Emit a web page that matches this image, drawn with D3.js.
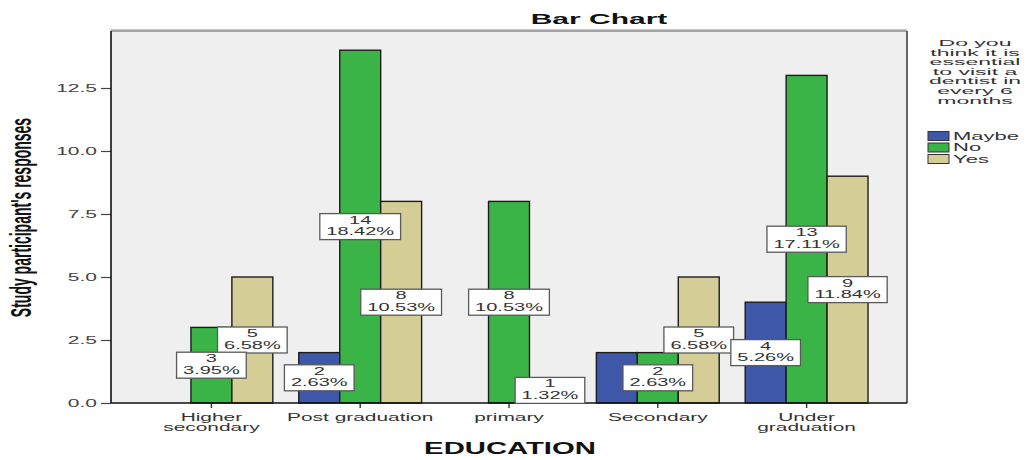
<!DOCTYPE html>
<html>
<head>
<meta charset="utf-8">
<script src="https://cdn.jsdelivr.net/npm/d3@7"></script>
<style>
  html, body { margin: 0; padding: 0; background: #ffffff; }
  svg { display: block; font-family: "Liberation Sans", Arial, sans-serif; }
</style>
</head>
<body>
<svg id="chart" width="1029" height="460"></svg>
<script>
// Education level categories (line breaks mark wrapped tick labels)
const categories = ["Higher\nsecondary", "Post graduation", "primary", "Secondary", "Under\ngraduation"];
// Response groups
const series = ["Maybe", "No", "Yes"];
// Counts of participants for each response, per education level
const maybeCounts = [0, 2, 0, 2, 4];
const noCounts    = [3, 14, 8, 2, 13];
const yesCounts   = [5, 8, 1, 5, 9];
// Total number of participants (base for the percentages)
const totalN = 76;
// Value axis ticks
const yTicks = [0, 2.5, 5, 7.5, 10, 12.5];
// Legend heading, as wrapped lines
const legendTitle = ["Do you", "think it is", "essential", "to visit a", "dentist in", "every 6", "months"];

const countsBySeries = { Maybe: maybeCounts, No: noCounts, Yes: yesCounts };
const colors = { Maybe: "#3f57a8", No: "#3bb447", Yes: "#d4cd96" };

const svg = d3.select("#chart");
const plot = { left: 111, top: 31, right: 907, bottom: 403 };

const x0 = d3.scaleBand()
  .domain(categories)
  .range([plot.left, plot.right])
  .paddingInner(0.1745)
  .paddingOuter(0.262);
const x1 = d3.scaleBand().domain(series).range([0, x0.bandwidth()]);
const y = d3.scaleLinear().domain([0, 12.5]).range([plot.bottom, 88]);

// Plot background
svg.append("rect")
  .attr("x", plot.left).attr("y", plot.top)
  .attr("width", plot.right - plot.left).attr("height", plot.bottom - plot.top)
  .attr("fill", "#efefef");

// Frame: top and right edges
svg.append("line").attr("x1", plot.left).attr("x2", plot.right).attr("y1", plot.top - 1.5).attr("y2", plot.top - 1.5)
  .attr("stroke", "#c8c8c8").attr("stroke-width", 1);
svg.append("line").attr("x1", plot.left).attr("x2", plot.right).attr("y1", plot.top).attr("y2", plot.top)
  .attr("stroke", "#8a8a8a").attr("stroke-width", 1.3);
svg.append("line").attr("x1", plot.right).attr("x2", plot.right).attr("y1", plot.top).attr("y2", plot.bottom)
  .attr("stroke", "#333").attr("stroke-width", 1.5);

// Flatten data into bar records
const bars = [];
categories.forEach((cat, i) => {
  series.forEach(s => {
    const v = countsBySeries[s][i];
    if (v > 0) bars.push({ cat, s, v });
  });
});

// Bars
svg.append("g").selectAll("rect")
  .data(bars)
  .join("rect")
  .attr("x", d => x0(d.cat) + x1(d.s))
  .attr("y", d => y(d.v))
  .attr("width", x1.bandwidth())
  .attr("height", d => y(0) - y(d.v))
  .attr("fill", d => colors[d.s])
  .attr("stroke", "#1c1c1c")
  .attr("stroke-width", 1.4);

// Y axis
const yAxis = svg.append("g")
  .attr("transform", `translate(${plot.left},0)`)
  .call(d3.axisLeft(y).tickValues(yTicks).tickFormat(d3.format(".1f")).tickSize(10).tickSizeOuter(0));
yAxis.select(".domain").remove();
yAxis.selectAll(".tick line").attr("stroke", "#444").attr("stroke-width", 1.2);
yAxis.selectAll(".tick text")
  .attr("x", 0).attr("dy", "0.35em")
  .attr("transform", "translate(-14,0) scale(2.1,1)")
  .attr("font-size", 10).attr("fill", "#444").attr("font-family", "\"Liberation Sans\", Arial, sans-serif");
svg.append("line").attr("x1", plot.left).attr("x2", plot.left).attr("y1", plot.top).attr("y2", plot.bottom)
  .attr("stroke", "#111").attr("stroke-width", 1.6);

// X axis
const xAxis = svg.append("g")
  .attr("transform", `translate(0,${plot.bottom})`)
  .call(d3.axisBottom(x0).tickSize(5).tickSizeOuter(0).tickFormat(""));
xAxis.select(".domain").remove();
xAxis.selectAll(".tick line").attr("stroke", "#333").attr("stroke-width", 1.4);
xAxis.selectAll(".tick").each(function (d) {
  const lines = d.split("\n");
  const t = d3.select(this).append("text")
    .attr("transform", "translate(0,18) scale(1.9,1)")
    .attr("text-anchor", "middle")
    .attr("font-size", 11)
    .attr("fill", "#333")
    .attr("font-family", "\"Liberation Sans\", Arial, sans-serif");
  lines.forEach((ln, k) => {
    t.append("tspan").attr("x", 0).attr("dy", k === 0 ? 0 : 10.5).text(ln);
  });
});
svg.append("line").attr("x1", plot.left).attr("x2", plot.right).attr("y1", plot.bottom).attr("y2", plot.bottom)
  .attr("stroke", "#111").attr("stroke-width", 1.6);

// Value labels: count and share of total, centred at half bar height.
// Labels are placed from the last series backwards; a label that would
// largely cover one already placed is left out.
const labelSx = 2.0;
const labelLayer = svg.append("g");
const placed = [];
const labelOrder = bars.slice().sort((a, b) =>
  categories.indexOf(a.cat) - categories.indexOf(b.cat) || series.indexOf(b.s) - series.indexOf(a.s));
labelOrder.forEach(d => {
  const cx = x0(d.cat) + x1(d.s) + x1.bandwidth() / 2;
  const cy = y(d.v / 2);
  const g = labelLayer.append("g").attr("transform", `translate(${cx},${cy})`);
  const rect = g.append("rect").attr("fill", "#ffffff").attr("stroke", "#5a5a5a").attr("stroke-width", 1.3);
  const texts = [String(d.v), (d.v / totalN * 100).toFixed(2) + "%"];
  let maxW = 0;
  texts.forEach((tx, k) => {
    const t = g.append("text")
      .attr("transform", `translate(0,${k === 0 ? -3 : 8.5}) scale(${labelSx},1)`)
      .attr("text-anchor", "middle")
      .attr("font-size", 10)
      .attr("fill", "#333")
      .text(tx);
    maxW = Math.max(maxW, t.node().getComputedTextLength() * labelSx);
  });
  const w = maxW + 13, h = 26;
  rect.attr("x", -w / 2).attr("y", -h / 2).attr("width", w).attr("height", h);
  const box = { x0: cx - w / 2, x1: cx + w / 2, y0: cy - h / 2, y1: cy + h / 2 };
  const clash = placed.some(p => {
    const ox = Math.min(p.x1, box.x1) - Math.max(p.x0, box.x0);
    const oy = Math.min(p.y1, box.y1) - Math.max(p.y0, box.y0);
    return ox > 6 && oy > 6;
  });
  if (clash) g.remove(); else placed.push(box);
});

// Title
svg.append("text")
  .attr("transform", "translate(599,24) scale(2.0,1)")
  .attr("text-anchor", "middle")
  .attr("font-size", 15).attr("font-weight", "bold").attr("fill", "#111")
  .text("Bar Chart");

// Axis titles
svg.append("text")
  .attr("transform", "translate(510,454) scale(1.83,1)")
  .attr("text-anchor", "middle")
  .attr("font-size", 16).attr("font-weight", "bold").attr("fill", "#111")
  .text("EDUCATION");
svg.append("text")
  .attr("transform", "translate(31,217.5) scale(2.1,1) rotate(-90)")
  .attr("text-anchor", "middle")
  .attr("font-size", 14).attr("font-weight", "bold").attr("fill", "#111")
  .text("Study participant's responses");

// Legend
const legend = svg.append("g");
legendTitle.forEach((ln, i) => {
  legend.append("text")
    .attr("transform", `translate(975,${46 + i * 9.6}) scale(2.45,1)`)
    .attr("text-anchor", "middle")
    .attr("font-size", 9.4).attr("fill", "#333")
    .text(ln);
});
series.forEach((s, i) => {
  const yc = 136 + i * 11.5;
  legend.append("rect")
    .attr("x", 928).attr("y", yc - 4.5).attr("width", 21).attr("height", 9)
    .attr("fill", colors[s]).attr("stroke", "#333").attr("stroke-width", 1);
  legend.append("text")
    .attr("transform", `translate(953,${yc + 3.5}) scale(2.2,1)`)
    .attr("font-size", 10).attr("fill", "#333")
    .text(s);
});
</script>
</body>
</html>
